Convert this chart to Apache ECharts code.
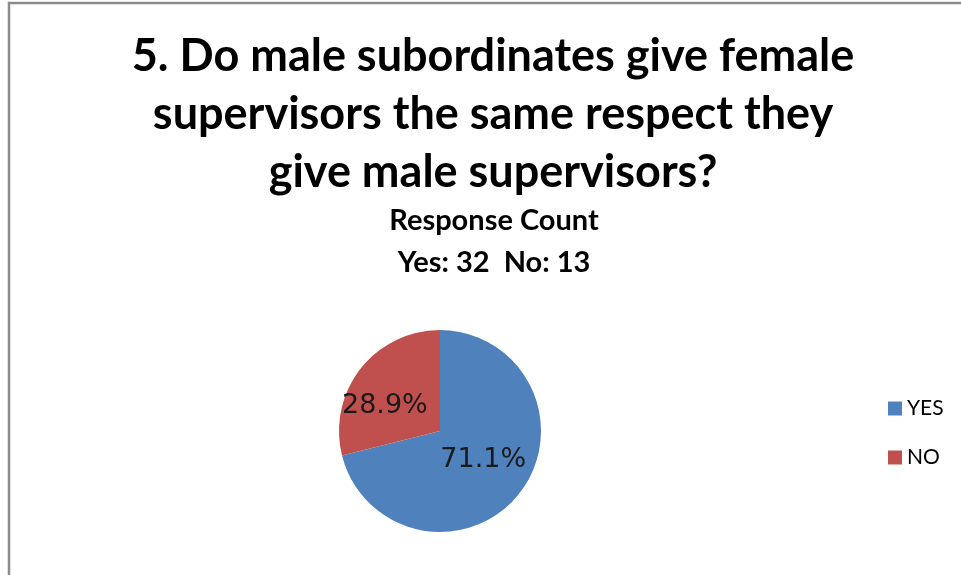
<!DOCTYPE html>
<html><head><meta charset="utf-8">
<script src="https://cdn.jsdelivr.net/npm/echarts@6/dist/echarts.min.js"></script>
<style>html,body{margin:0;padding:0;background:#fff}#c{width:961px;height:575px}</style>
</head><body><div id="c"></div>
<script>
const titleText = "5. Do male subordinates give female\nsupervisors the same respect they\ngive male supervisors?";
const subText = "Response Count\nYes: 32  No: 13";
const categories = ["YES", "NO"];
const values = [32, 13];
const colors = ["#4F81BD", "#C0504D"];
const FONT = "Lato, 'Open Sans', sans-serif";

const chart = echarts.init(document.getElementById('c'), null, {renderer: 'canvas'});
const total = values.reduce((a, b) => a + b, 0);
const pct = v => (v / total * 100).toFixed(1) + '%';
chart.setOption({
  animation: false,
  backgroundColor: '#fff',
  graphic: [{
    type: 'rect', silent: true,
    shape: {x: 9, y: 3, width: 1000, height: 700},
    style: {fill: 'none', stroke: '#8c8c8c', lineWidth: 2.5}
  }],
  title: [{
    text: titleText, left: 488, top: 22, textAlign: 'center',
    textStyle: {fontFamily: FONT, fontSize: 45, fontWeight: 'bold', color: '#000', lineHeight: 58}
  }, {
    text: subText, left: 489, top: 195, textAlign: 'center',
    textStyle: {fontFamily: FONT, fontSize: 29, fontWeight: 'bold', color: '#000', lineHeight: 42}
  }],
  legend: {
    orient: 'vertical', left: 883, top: 393, itemGap: 28,
    itemWidth: 14, itemHeight: 14, icon: 'rect',
    textStyle: {fontFamily: FONT, fontSize: 21, color: '#000', padding: [0, 0, 0, 0]},
    data: categories
  },
  series: [{
    type: 'pie', center: [440, 431], radius: 101, startAngle: 90, clockwise: true,
    label: {
      show: true, position: 'inside',
      formatter: p => p.dataIndex === 1 ? '{padT|}\n{v|' + pct(p.value) + '}' : '{v|' + pct(p.value) + '}\n{padB|}',
      rich: {
        v: {fontFamily: "'DejaVu Sans', sans-serif", fontSize: 27, color: '#1a1a1a', lineHeight: 30},
        padT: {height: 16, lineHeight: 16},
        padB: {height: 8, lineHeight: 8}
      }
    },
    labelLine: {show: false},
    emphasis: {disabled: true},
    itemStyle: {borderColor: '#fff', borderWidth: 0},
    data: categories.map((c, i) => ({
      name: c, value: values[i], itemStyle: {color: colors[i]},
      label: {padding: i === 1 ? [0, 26, 0, 0] : [0, 0, 0, 2]}
    }))
  }]
});
</script></body></html>
